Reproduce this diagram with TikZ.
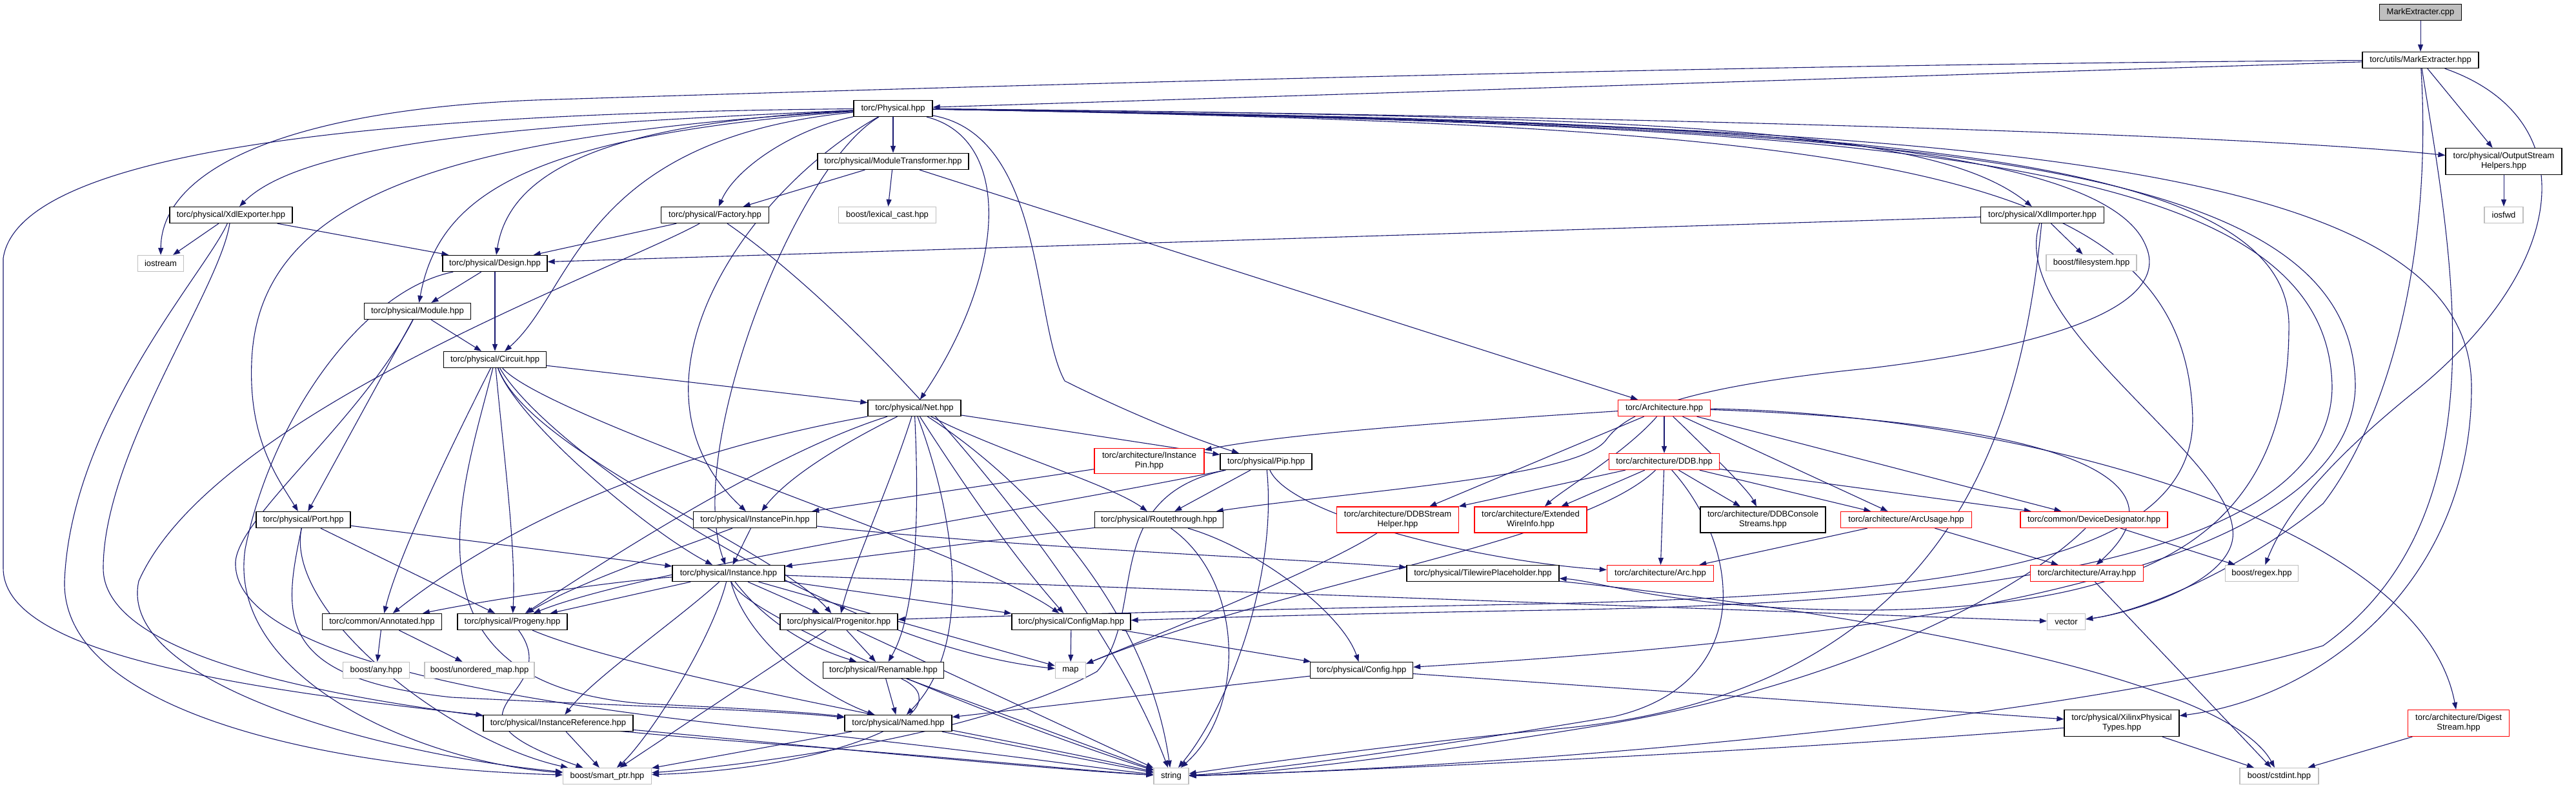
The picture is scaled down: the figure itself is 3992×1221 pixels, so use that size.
\documentclass[tikz,border=0pt]{standalone}
\usepackage{fontspec}
\setmainfont{Liberation Sans}
\usetikzlibrary{arrows.meta,backgrounds}
\definecolor{edgeblue}{HTML}{191970}
\definecolor{lgray}{HTML}{BFBFBF}
\definecolor{cppfill}{HTML}{BFBFBF}
\newcommand{\nodefnt}{\fontsize{13bp}{15bp}\selectfont}
\tikzset{
 nbox/.style={draw=black, line width=1.3bp, fill=white, inner sep=0pt, minimum height=25bp, align=center, font=\nodefnt},
 gbox/.style={nbox, draw=lgray},
 rbox/.style={nbox, draw=red},
 edg/.style={draw=edgeblue, line width=1.1bp, -{Triangle[length=11bp,width=8bp]}},
}
\begin{document}
\begin{tikzpicture}[x=1bp,y=-1bp]
\path[use as bounding box] (0,0) rectangle (3992,1221);
% nodes
\node[nbox, fill=cppfill, minimum width=127bp] (cpp) at (3751,19) {MarkExtracter.cpp};
\node[nbox, minimum width=180bp] (meh) at (3751,93) {torc/utils/MarkExtracter.hpp};
\node[nbox, minimum width=122bp] (phys) at (1384,168) {torc/Physical.hpp};
\node[nbox, minimum width=234bp] (mt) at (1384,250) {torc/physical/ModuleTransformer.hpp};
\node[nbox, minimum width=180bp, minimum height=41bp] (osh) at (3880,250) {torc/physical/OutputStream\\Helpers.hpp};
\node[nbox, minimum width=190bp] (xe) at (358,333) {torc/physical/XdlExporter.hpp};
\node[nbox, minimum width=167bp] (fac) at (1108,333) {torc/physical/Factory.hpp};
\node[gbox, minimum width=151bp] (lc) at (1375,333) {boost/lexical\_cast.hpp};
\node[nbox, minimum width=191bp] (xi) at (3165,333) {torc/physical/XdlImporter.hpp};
\node[gbox, minimum width=60bp] (iosfwd) at (3880,333) {iosfwd};
\node[gbox, minimum width=71bp] (ios) at (249,408) {iostream};
\node[nbox, minimum width=162bp] (des) at (767,408) {torc/physical/Design.hpp};
\node[gbox, minimum width=140bp] (fs) at (3241,407) {boost/filesystem.hpp};
\node[nbox, minimum width=165bp] (mod) at (647,482) {torc/physical/Module.hpp};
\node[nbox, minimum width=159bp] (cir) at (767,557) {torc/physical/Circuit.hpp};
\node[nbox, minimum width=144bp] (net) at (1417,632) {torc/physical/Net.hpp};
\node[rbox, minimum width=143bp] (arch) at (2579,632) {torc/Architecture.hpp};
\node[rbox, minimum width=170bp, minimum height=39bp] (aip) at (1781,714) {torc/architecture/Instance\\Pin.hpp};
\node[nbox, minimum width=142bp] (pip) at (1962,715) {torc/physical/Pip.hpp};
\node[rbox, minimum width=171bp] (ddb) at (2579,715) {torc/architecture/DDB.hpp};
\node[nbox, minimum width=146bp] (port) at (470,805) {torc/physical/Port.hpp};
\node[nbox, minimum width=191bp] (ip) at (1170,805) {torc/physical/InstancePin.hpp};
\node[nbox, minimum width=199bp] (rt) at (1796,805) {torc/physical/Routethrough.hpp};
\node[rbox, minimum width=189bp, minimum height=40bp] (dsh) at (2166,805) {torc/architecture/DDBStream\\Helper.hpp};
\node[rbox, minimum width=174bp, minimum height=40bp] (ewi) at (2372,805) {torc/architecture/Extended\\WireInfo.hpp};
\node[nbox, minimum width=194bp, minimum height=40bp] (dcs) at (2732,805) {torc/architecture/DDBConsole\\Streams.hpp};
\node[rbox, minimum width=203bp] (au) at (2954,805) {torc/architecture/ArcUsage.hpp};
\node[rbox, minimum width=228bp] (dd) at (3245,805) {torc/common/DeviceDesignator.hpp};
\node[nbox, minimum width=174bp] (inst) at (1129,888) {torc/physical/Instance.hpp};
\node[nbox, minimum width=236bp] (tp) at (2298,888) {torc/physical/TilewirePlaceholder.hpp};
\node[rbox, minimum width=165bp] (arc) at (2573,888) {torc/architecture/Arc.hpp};
\node[rbox, minimum width=175bp] (arr) at (3234,888) {torc/architecture/Array.hpp};
\node[gbox, minimum width=113bp] (regex) at (3505,888) {boost/regex.hpp};
\node[nbox, minimum width=185bp] (ann) at (592,963) {torc/common/Annotated.hpp};
\node[nbox, minimum width=170bp] (prog) at (794,963) {torc/physical/Progeny.hpp};
\node[nbox, minimum width=182bp] (pgt) at (1300,963) {torc/physical/Progenitor.hpp};
\node[nbox, minimum width=184bp] (cm) at (1660,963) {torc/physical/ConfigMap.hpp};
\node[gbox, minimum width=59bp] (vec) at (3202,963) {vector};
\node[gbox, minimum width=103bp] (any) at (583,1038) {boost/any.hpp};
\node[gbox, minimum width=170bp] (um) at (743,1038) {boost/unordered\_map.hpp};
\node[gbox, minimum width=47bp] (map) at (1659,1038) {map};
\node[nbox, minimum width=187bp] (ren) at (1369,1038) {torc/physical/Renamable.hpp};
\node[nbox, minimum width=159bp] (cfg) at (2110,1038) {torc/physical/Config.hpp};
\node[nbox, minimum width=232bp] (ir) at (865,1120) {torc/physical/InstanceReference.hpp};
\node[nbox, minimum width=166bp] (named) at (1392,1120) {torc/physical/Named.hpp};
\node[nbox, minimum width=178bp, minimum height=41bp] (xpt) at (3288,1120) {torc/physical/XilinxPhysical\\Types.hpp};
\node[rbox, minimum width=157bp, minimum height=41bp] (ds) at (3810,1120) {torc/architecture/Digest\\Stream.hpp};
\node[gbox, minimum width=137bp] (sp) at (941,1202) {boost/smart\_ptr.hpp};
\node[gbox, minimum width=54bp] (str) at (1815,1202) {string};
\node[gbox, minimum width=122bp] (cst) at (3532,1202) {boost/cstdint.hpp};

\begin{pgfonlayer}{background}
\fill[white] (0,0) rectangle (3992,1221);
% top
\draw[edg] (cpp) -- (meh);
\draw[edg] (meh) -- (phys);
\draw[edg] (meh) -- (osh);
\draw[edg] (meh) .. controls (2600,100) and (1300,140) .. (830,155) .. controls (450,170) and (250,260) .. (ios);
\draw[edg] (meh) .. controls (4000,180) and (3990,400) .. (3750,600) .. controls (3600,720) and (3540,800) .. (regex);
\draw[edg] (meh) .. controls (3800,400) and (3880,800) .. (3600,1000) .. controls (3200,1120) and (2300,1190) .. (str);
\draw[edg] (meh) .. controls (3770,400) and (3700,650) .. (3600,780) .. controls (3450,900) and (3300,950) .. (vec);
\draw[edg] (osh) -- (iosfwd);
% physical
\draw[edg] (phys) -- (mt);
\draw[edg] (phys) .. controls (900,190) and (480,210) .. (xe);
\draw[edg] (phys) .. controls (1230,200) and (1140,260) .. (fac);
\draw[edg] (phys) .. controls (950,190) and (790,260) .. (des);
\draw[edg] (phys) .. controls (820,210) and (680,300) .. (mod);
\draw[edg] (phys) .. controls (900,215) and (890,450) .. (cir);
\draw[edg] (phys) .. controls (1570,215) and (1560,420) .. (net);
\draw[edg] (phys) .. controls (1620,210) and (1600,500) .. (1650,590) .. controls (1750,640) and (1850,680) .. (pip);
\draw[edg] (phys) .. controls (700,210) and (400,300) .. (390,560) .. controls (385,680) and (430,740) .. (port);
\draw[edg] (phys) .. controls (1230,260) and (1060,700) .. (inst);
\draw[edg] (phys) .. controls (1150,300) and (950,600) .. (ip);
\draw[edg] (phys) .. controls (2500,185) and (3250,200) .. (3325,380) .. controls (3370,480) and (3150,540) .. (2900,570) .. controls (2600,600) and (2520,640) .. (2490,680) .. controls (2450,740) and (2100,760) .. (rt);
\draw[edg] (phys) .. controls (600,175) and (30,230) .. (5,400) -- (5,880) .. controls (5,1000) and (300,1060) .. (ir);
\draw[edg] (phys) .. controls (2600,180) and (3500,210) .. (osh);
\draw[edg] (phys) .. controls (2600,180) and (3000,200) .. (xi);
\draw[edg] (phys) .. controls (3000,195) and (3830,230) .. (3830,600) .. controls (3830,900) and (3600,1080) .. (xpt);
\draw[edg] (phys) .. controls (2950,195) and (3650,230) .. (3650,600) .. controls (3640,900) and (2900,990) .. (cfg);
\draw[edg] (phys) .. controls (2900,195) and (3610,230) .. (3614,600) .. controls (3610,880) and (3000,935) .. (2400,945) .. controls (2000,952) and (1850,958) .. (cm);
\draw[edg] (phys) .. controls (2900,195) and (3390,250) .. (3398,650) .. controls (3396,880) and (3000,920) .. (2400,935) .. controls (1900,945) and (1500,955) .. (pgt);
\draw[edg] (phys) .. controls (2800,190) and (3540,220) .. (3547,500) .. controls (3550,850) and (3300,940) .. (2900,945) .. controls (2600,945) and (2480,900) .. (tp);
% module transformer
\draw[edg] (mt) -- (fac);
\draw[edg] (mt) -- (lc);
\draw[edg] (mt) -- (arch);
% factory
\draw[edg] (fac) -- (des);
\draw[edg] (fac) .. controls (950,420) and (330,640) .. (215,900) .. controls (180,1060) and (600,1170) .. (sp);
\draw[edg] (fac) .. controls (1350,500) and (1700,900) .. (str);
% xdl exporter
\draw[edg] (xe) -- (ios);
\draw[edg] (xe) -- (des);
\draw[edg] (xe) .. controls (320,420) and (110,650) .. (100,900) .. controls (95,1100) and (500,1190) .. (sp);
\draw[edg] (xe) .. controls (340,450) and (160,700) .. (160,880) .. controls (160,1080) and (900,1130) .. (1300,1160) .. controls (1550,1180) and (1700,1195) .. (str);
% xdl importer
\draw[edg] (xi) -- (des);
\draw[edg] (xi) -- (fs);
\draw[edg] (xi) .. controls (3110,500) and (3450,700) .. (3460,820) .. controls (3470,900) and (3300,950) .. (vec);
\draw[edg] (xi) .. controls (3130,700) and (3000,1080) .. (2400,1130) .. controls (2100,1160) and (1900,1190) .. (str);
% design, module
\draw[edg] (des) -- (mod);
\draw[edg] (des) -- (cir);
\draw[edg] (des) .. controls (560,450) and (420,650) .. (380,850) .. controls (350,1050) and (650,1180) .. (sp);
\draw[edg] (mod) -- (cir);
\draw[edg] (mod) -- (port);
\draw[edg] (mod) .. controls (560,650) and (370,800) .. (365,870) .. controls (360,1000) and (700,1080) .. (1200,1130) .. controls (1500,1160) and (1700,1190) .. (str);
% circuit
\draw[edg] (cir) -- (net);
\draw[edg] (cir) .. controls (800,650) and (1000,820) .. (inst);
\draw[edg] (cir) .. controls (780,700) and (800,850) .. (prog);
\draw[edg] (cir) .. controls (720,650) and (620,850) .. (ann);
\draw[edg] (cir) .. controls (820,700) and (1200,850) .. (pgt);
\draw[edg] (cir) .. controls (850,650) and (1500,850) .. (cm);
\draw[edg] (cir) .. controls (850,700) and (1300,1000) .. (map);
\draw[edg] (cir) .. controls (720,750) and (600,1060) .. (1000,1090) .. controls (1150,1097) and (1250,1103) .. (named);
% net
\draw[edg] (net) -- (pip);
\draw[edg] (net) .. controls (1300,690) and (1220,740) .. (ip);
\draw[edg] (net) .. controls (1550,700) and (1720,750) .. (rt);
\draw[edg] (net) .. controls (1150,680) and (850,760) .. (ann);
\draw[edg] (net) .. controls (1200,700) and (950,860) .. (prog);
\draw[edg] (net) .. controls (1380,750) and (1320,880) .. (pgt);
\draw[edg] (net) .. controls (1425,800) and (1420,950) .. (ren);
\draw[edg] (net) .. controls (1480,800) and (1510,1000) .. (named);
\draw[edg] (net) .. controls (1480,730) and (1560,850) .. (cm);
\draw[edg] (net) .. controls (1600,750) and (1780,950) .. (str);
% pip
\draw[edg] (pip) -- (rt);
\draw[edg] (pip) .. controls (1600,790) and (1000,880) .. (prog);
\draw[edg] (pip) .. controls (2000,800) and (2300,870) .. (arc);
\draw[edg] (pip) .. controls (1980,900) and (1900,1100) .. (str);
\draw[edg] (pip) .. controls (1700,770) and (1780,950) .. (1700,1040) .. controls (1500,1150) and (1100,1190) .. (sp);
% instance pins
\draw[edg] (aip) -- (ip);
\draw[edg] (ip) -- (inst);
\draw[edg] (ip) .. controls (1600,850) and (2000,865) .. (tp);
\draw[edg] (ip) .. controls (1050,850) and (900,900) .. (prog);
% port
\draw[edg] (port) -- (inst);
\draw[edg] (port) -- (prog);
\draw[edg] (port) .. controls (440,950) and (700,1150) .. (sp);
\draw[edg] (port) .. controls (440,950) and (420,1050) .. (700,1080) .. controls (1000,1095) and (1200,1100) .. (named);
% routethrough
\draw[edg] (rt) -- (inst);
\draw[edg] (rt) .. controls (1950,850) and (2080,950) .. (cfg);
\draw[edg] (rt) .. controls (1930,900) and (1930,1100) .. (str);
% instance
\draw[edg] (inst) -- (pgt);
\draw[edg] (inst) .. controls (950,900) and (750,930) .. (ann);
\draw[edg] (inst) -- (prog);
\draw[edg] (inst) -- (cm);
\draw[edg] (inst) -- (map);
\draw[edg] (inst) -- (vec);
\draw[edg] (inst) .. controls (1200,980) and (1280,1010) .. (ren);
\draw[edg] (inst) .. controls (1160,1000) and (1280,1080) .. (named);
\draw[edg] (inst) .. controls (1050,960) and (920,1050) .. (ir);
\draw[edg] (inst) .. controls (1100,1000) and (1000,1150) .. (sp);
\draw[edg] (inst) .. controls (1150,950) and (1500,1100) .. (str);
% progenitor etc
\draw[edg] (pgt) -- (ren);
\draw[edg] (pgt) -- (sp);
\draw[edg] (pgt) -- (str);
\draw[edg] (ren) -- (named);
\draw[edg] (ren) -- (str);
\draw[edg] (ren) .. controls (1500,1100) and (1300,1190) .. (sp);
\draw[edg] (named) -- (sp);
\draw[edg] (named) -- (str);
\draw[edg] (cm) -- (map);
\draw[edg] (cm) -- (cfg);
\draw[edg] (cfg) -- (named);
\draw[edg] (cfg) -- (xpt);
\draw[edg] (ir) -- (sp);
\draw[edg] (ir) .. controls (1200,1150) and (1600,1190) .. (str);
\draw[edg] (ann) -- (any);
\draw[edg] (ann) -- (um);
\draw[edg] (prog) .. controls (880,1080) and (650,1100) .. (sp);
\draw[edg] (prog) .. controls (1000,1050) and (1600,1150) .. (str);
\draw[edg] (xpt) -- (cst);
\draw[edg] (xpt) .. controls (2800,1160) and (2100,1195) .. (str);
\draw[edg] (ds) -- (cst);
\draw[edg] (arr) -- (cst);
% architecture
\draw[edg] (arch) .. controls (2300,650) and (2000,670) .. (aip);
\draw[edg] (arch) -- (dsh);
\draw[edg] (arch) .. controls (2520,700) and (2420,760) .. (ewi);
\draw[edg] (arch) -- (ddb);
\draw[edg] (arch) .. controls (2650,700) and (2710,760) .. (dcs);
\draw[edg] (arch) -- (au);
\draw[edg] (arch) -- (dd);
\draw[edg] (arch) .. controls (3100,650) and (3420,720) .. (arr);
\draw[edg] (arch) .. controls (3100,640) and (3750,800) .. (ds);
% ddb
\draw[edg] (ddb) -- (dsh);
\draw[edg] (ddb) -- (ewi);
\draw[edg] (ddb) -- (dcs);
\draw[edg] (ddb) -- (au);
\draw[edg] (ddb) -- (dd);
\draw[edg] (ddb) -- (arc);
\draw[edg] (ddb) .. controls (2700,850) and (2720,1060) .. (2500,1110) .. controls (2200,1160) and (1950,1195) .. (str);
\draw[edg] (ddb) .. controls (2450,840) and (2000,900) .. (map);
\draw[edg] (au) -- (arc);
\draw[edg] (au) -- (arr);
\draw[edg] (dd) -- (regex);
\draw[edg] (dd) .. controls (3150,900) and (2900,1050) .. (2500,1120) .. controls (2200,1170) and (1950,1200) .. (str);
\draw[edg] (dsh) .. controls (2050,880) and (1800,980) .. (map);
\draw[edg] (tp) .. controls (2900,950) and (3450,1050) .. (cst);
\end{pgfonlayer}
\end{tikzpicture}
\end{document}
